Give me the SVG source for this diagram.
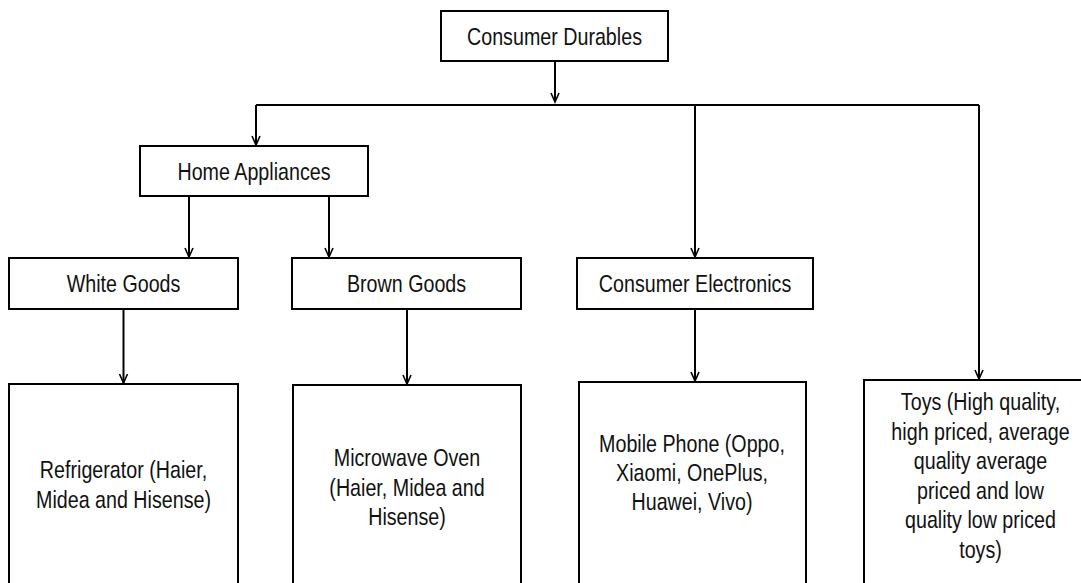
<svg xmlns="http://www.w3.org/2000/svg" width="1081" height="583" viewBox="0 0 1081 583">
<style>
.box{fill:#fff;stroke:#000;stroke-width:2}
.lbl{font-family:"Liberation Sans",Arial,sans-serif;font-size:24px;fill:#111;text-anchor:middle}
.con{fill:none;stroke:#000;stroke-width:2}
</style>
<defs>
<marker id="arr" markerUnits="userSpaceOnUse" markerWidth="12" markerHeight="12" viewBox="-10 -6 12 12" refX="0" refY="0" orient="auto" overflow="visible">
<path d="M-9,-4 L0,0 L-9,4" fill="none" stroke="#000" stroke-width="1.6"/>
</marker>
</defs>
<rect width="1081" height="583" fill="#fff"/>
<g id="connectors">
<line class="con" x1="555" y1="61" x2="555" y2="102" marker-end="url(#arr)"/>
<line class="con" x1="256" y1="105" x2="979" y2="105"/>
<line class="con" x1="256" y1="105" x2="256" y2="145" marker-end="url(#arr)"/>
<line class="con" x1="695" y1="105" x2="695" y2="257" marker-end="url(#arr)"/>
<line class="con" x1="979" y1="105" x2="979" y2="379" marker-end="url(#arr)"/>
<line class="con" x1="189" y1="196" x2="189" y2="257" marker-end="url(#arr)"/>
<line class="con" x1="329" y1="196" x2="329" y2="257" marker-end="url(#arr)"/>
<line class="con" x1="123.5" y1="309" x2="123.5" y2="383" marker-end="url(#arr)"/>
<line class="con" x1="407" y1="309" x2="407" y2="384" marker-end="url(#arr)"/>
<line class="con" x1="695" y1="309" x2="695" y2="381" marker-end="url(#arr)"/>
</g>
<g id="n-durables">
<rect class="box" x="441" y="11" width="227" height="50"/>
<text class="lbl" transform="translate(554.5,44.5) scale(0.82,1)">Consumer Durables</text>
</g>
<g id="n-home">
<rect class="box" x="140" y="146" width="228" height="50"/>
<text class="lbl" transform="translate(254,179.5) scale(0.82,1)">Home Appliances</text>
</g>
<g id="n-white">
<rect class="box" x="9" y="258" width="229" height="51"/>
<text class="lbl" transform="translate(123.5,292) scale(0.82,1)">White Goods</text>
</g>
<g id="n-brown">
<rect class="box" x="292" y="258" width="229" height="51"/>
<text class="lbl" transform="translate(406.5,292) scale(0.82,1)">Brown Goods</text>
</g>
<g id="n-electronics">
<rect class="box" x="577" y="258" width="236" height="51"/>
<text class="lbl" transform="translate(695,292) scale(0.82,1)">Consumer Electronics</text>
</g>
<g id="n-fridge">
<rect class="box" x="9" y="384" width="229" height="220"/>
<text class="lbl" transform="translate(123.5,478) scale(0.82,1)">Refrigerator (Haier,</text>
<text class="lbl" transform="translate(123.5,507.5) scale(0.82,1)">Midea and Hisense)</text>
</g>
<g id="n-microwave">
<rect class="box" x="293" y="385" width="228" height="220"/>
<text class="lbl" transform="translate(407,466) scale(0.82,1)">Microwave Oven</text>
<text class="lbl" transform="translate(407,495.5) scale(0.82,1)">(Haier, Midea and</text>
<text class="lbl" transform="translate(407,525) scale(0.82,1)">Hisense)</text>
</g>
<g id="n-mobile">
<rect class="box" x="579" y="382" width="227" height="220"/>
<text class="lbl" transform="translate(692,452) scale(0.82,1)">Mobile Phone (Oppo,</text>
<text class="lbl" transform="translate(692,481) scale(0.82,1)">Xiaomi, OnePlus,</text>
<text class="lbl" transform="translate(692,510) scale(0.82,1)">Huawei, Vivo)</text>
</g>
<g id="n-toys">
<rect class="box" x="864" y="380" width="240" height="220"/>
<text class="lbl" transform="translate(980.5,410) scale(0.82,1)">Toys (High quality,</text>
<text class="lbl" transform="translate(980.5,439.5) scale(0.82,1)">high priced, average</text>
<text class="lbl" transform="translate(980.5,469) scale(0.82,1)">quality average</text>
<text class="lbl" transform="translate(980.5,498.5) scale(0.82,1)">priced and low</text>
<text class="lbl" transform="translate(980.5,528) scale(0.82,1)">quality low priced</text>
<text class="lbl" transform="translate(980.5,557.5) scale(0.82,1)">toys)</text>
</g>
</svg>
